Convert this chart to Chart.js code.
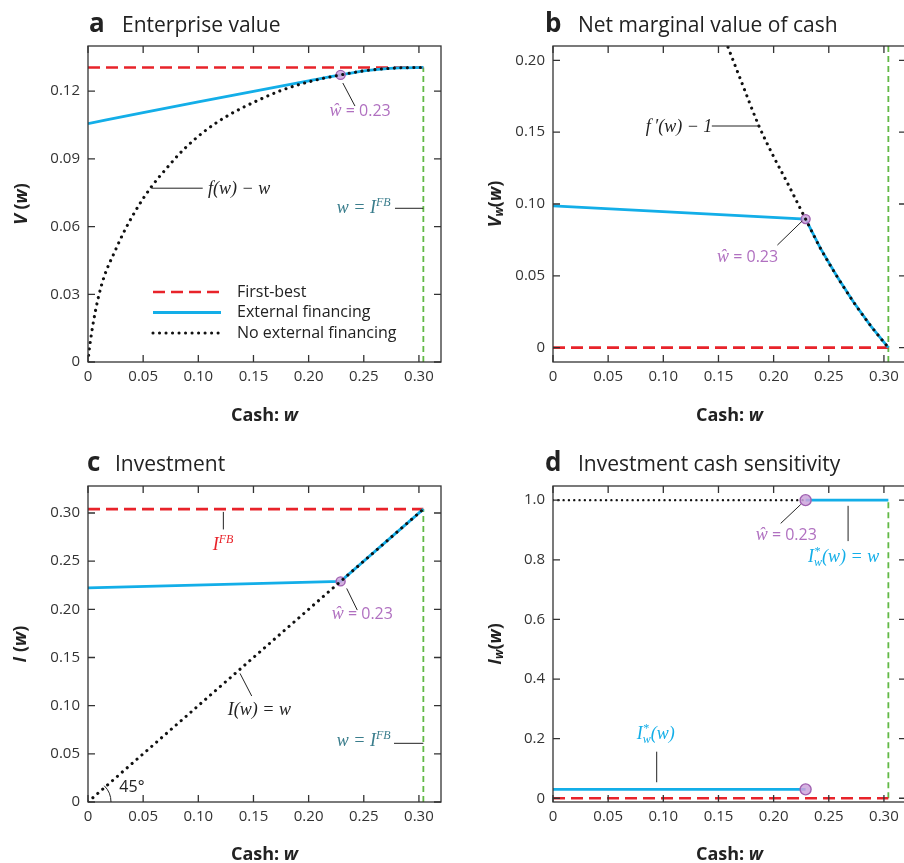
<!DOCTYPE html>
<html>
<head>
<meta charset="utf-8">
<script src="https://cdn.jsdelivr.net/npm/chart.js@4.4.1/dist/chart.umd.min.js"></script>
<style>
html, body { margin: 0; padding: 0; background: #fff; overflow: hidden; }
body { width: 904px; height: 863px; position: relative; }
canvas { position: absolute; }
</style>
</head>
<body>
<canvas id="chartA" width="452" height="430" style="left:0px;top:0px"></canvas>
<canvas id="chartB" width="470" height="430" style="left:452px;top:0px"></canvas>
<canvas id="chartC" width="452" height="425" style="left:0px;top:438px"></canvas>
<canvas id="chartD" width="470" height="425" style="left:452px;top:438px"></canvas>
<script>
// ---- data ----
var iFB = 0.304;      // first-best investment
var wHat = 0.229;     // payout boundary

var cashTicks = [0, 0.05, 0.10, 0.15, 0.20, 0.25, 0.30];
var cashTickLabels = ['0', '0.05', '0.10', '0.15', '0.20', '0.25', '0.30'];

// a: enterprise value
var valueTicks = [0, 0.03, 0.06, 0.09, 0.12];
var valueTickLabels = ['0', '0.03', '0.06', '0.09', '0.12'];
var firstBestValue = 0.1305;
var noFinW = [0, 0.0008, 0.0042, 0.009, 0.0147, 0.0237, 0.0342, 0.0462, 0.0568, 0.0703, 0.0868, 0.108, 0.129, 0.153, 0.174, 0.192, 0.210, 0.229, 0.252, 0.282, 0.304];
var noFinV = [0, 0.004, 0.0157, 0.0278, 0.0379, 0.0483, 0.0592, 0.0695, 0.0772, 0.0853, 0.0942, 0.1031, 0.1098, 0.1157, 0.1201, 0.1230, 0.1253, 0.1272, 0.1291, 0.1303, 0.1305];
var extFinW = [0, 0.05, 0.10, 0.15, 0.20, 0.229, 0.252, 0.282, 0.304];
var extFinV = [0.1056, 0.1105, 0.1153, 0.1199, 0.1245, 0.1272, 0.1291, 0.1303, 0.1305];

// b: net marginal value of cash
var marginalTicks = [0, 0.05, 0.10, 0.15, 0.20];
var marginalTickLabels = ['0', '0.05', '0.10', '0.15', '0.20'];
var noFinMargW = [0.150, 0.158, 0.170, 0.1866, 0.200, 0.2123, 0.229, 0.2425, 0.2575, 0.2724, 0.288, 0.304];
var noFinMargV = [0.226, 0.2104, 0.1867, 0.1545, 0.133, 0.115, 0.0895, 0.0691, 0.0495, 0.0318, 0.0152, 0];
var extFinMargW = [0, 0.229, 0.2425, 0.2575, 0.2724, 0.288, 0.304];
var extFinMargV = [0.0987, 0.0895, 0.0691, 0.0495, 0.0318, 0.0152, 0];
var firstBestMarg = 0;

// c: investment
var investTicks = [0, 0.05, 0.10, 0.15, 0.20, 0.25, 0.30];
var investTickLabels = ['0', '0.05', '0.10', '0.15', '0.20', '0.25', '0.30'];
var noFinInvW = [0, 0.304];
var noFinInvI = [0, 0.304];
var extFinInvW = [0, 0.229, 0.304];
var extFinInvI = [0.2223, 0.229, 0.304];

// d: investment cash sensitivity
var sensTicks = [0, 0.2, 0.4, 0.6, 0.8, 1.0];
var sensTickLabels = ['0', '0.2', '0.4', '0.6', '0.8', '1.0'];
var noFinSensW = [0, 0.229];
var noFinSensI = [1.0, 1.0];
var extLowW = [0, 0.229];
var extLowI = [0.03, 0.03];
var extHighW = [0.229, 0.304];
var extHighI = [1.0, 1.0];
var firstBestSens = 0;

// ---- styles ----
var RED = '#e8232a', BLUE = '#13aee8', GREEN = '#62b946', PURPLE = '#b070c0', TEAL = '#3a7d8c', INK = '#222';
var F = {
	serif: 'italic 18px "Liberation Serif"',
	serifSm: 'italic 12px "Liberation Serif"',
	sans: '16px "Open Sans"',
	bold: 'bold 18px "Open Sans"',
	boldI: 'bold italic 18px "Open Sans"',
	boldSm: 'bold italic 12px "Open Sans"',
	title: '21px "Open Sans"',
	letter: 'bold 26px "Open Sans"'
};

function pts(xs, ys) {
	return xs.map(function(x, i) { return {x: x, y: ys[i]}; });
}

function dotted(xs, ys, size, gap) {
	return {data: pts(xs, ys), showLine: true, pointRadius: 0, borderColor: '#111', borderWidth: size,
		borderDash: [0.01, gap], borderCapStyle: 'round', cubicInterpolationMode: 'monotone', label: 'No external financing'};
}
function solid(xs, ys, smooth) {
	return {data: pts(xs, ys), showLine: true, pointRadius: 0, borderColor: BLUE, borderWidth: 2.8,
		cubicInterpolationMode: smooth ? 'monotone' : 'default', tension: 0, label: 'External financing'};
}
function dashed(xs, ys) {
	return {data: pts(xs, ys), showLine: true, pointRadius: 0, borderColor: RED, borderWidth: 2.6,
		borderDash: [12, 6], label: 'First-best'};
}
function vline(xs, ys) {
	return {data: pts(xs, ys), showLine: true, pointRadius: 0, borderColor: GREEN, borderWidth: 1.8,
		borderDash: [6, 4]};
}
function marker(xs, ys, r) {
	return {data: pts(xs, ys), showLine: false, pointRadius: r, pointBackgroundColor: 'rgba(205,165,220,0.85)',
		pointBorderColor: '#a060b0', pointBorderWidth: 1.4};
}

function drawRich(ctx, x, y, parts, color) {
	parts.forEach(function(p) {
		ctx.font = p.f;
		ctx.fillStyle = p.c || color || INK;
		ctx.fillText(p.t, x, y + (p.dy || 0));
		if (!p.stack) x += ctx.measureText(p.t).width;
	});
}
function richWidth(ctx, parts) {
	var w = 0;
	parts.forEach(function(p) { ctx.font = p.f; if (!p.stack) w += ctx.measureText(p.t).width; });
	return w;
}

var decor = {
	id: 'decor',
	afterDraw: function(chart, args, o) {
		var ctx = chart.ctx, a = chart.chartArea, xs = chart.scales.x, ys = chart.scales.y;
		ctx.save();
		// frame and inward ticks on all four sides
		ctx.strokeStyle = '#333';
		ctx.lineWidth = 1.3;
		ctx.strokeRect(a.left, a.top, a.right - a.left, a.bottom - a.top);
		ctx.beginPath();
		xs.ticks.forEach(function(t) {
			var px = xs.getPixelForValue(t.value);
			ctx.moveTo(px, a.bottom); ctx.lineTo(px, a.bottom - 7);
			ctx.moveTo(px, a.top); ctx.lineTo(px, a.top + 7);
		});
		ys.ticks.forEach(function(t) {
			var py = ys.getPixelForValue(t.value);
			ctx.moveTo(a.left, py); ctx.lineTo(a.left + 7, py);
			ctx.moveTo(a.right, py); ctx.lineTo(a.right - 7, py);
		});
		ctx.stroke();

		// title
		ctx.textBaseline = 'alphabetic';
		ctx.textAlign = 'left';
		ctx.fillStyle = INK;
		ctx.font = F.letter;
		ctx.fillText(o.letter, o.letterX, o.titleY);
		ctx.font = F.title;
		ctx.fillText(o.title, o.titleX, o.titleY);

		// axis titles
		var xl = [{t: 'Cash: ', f: F.bold}, {t: 'w', f: F.boldI}];
		drawRich(ctx, (a.left + a.right) / 2 - richWidth(ctx, xl) / 2, o.xLabelY, xl);
		ctx.save();
		ctx.translate(o.yLabelX, (a.top + a.bottom) / 2);
		ctx.rotate(-Math.PI / 2);
		ctx.textBaseline = 'middle';
		drawRich(ctx, -richWidth(ctx, o.yLabel) / 2, 0, o.yLabel);
		ctx.restore();

		// notes with leader lines
		ctx.strokeStyle = '#222';
		ctx.lineWidth = 1;
		(o.notes || []).forEach(function(n) {
			if (n.line) {
				ctx.beginPath();
				ctx.moveTo(xs.getPixelForValue(n.line[0]), ys.getPixelForValue(n.line[1]));
				ctx.lineTo(xs.getPixelForValue(n.line[2]), ys.getPixelForValue(n.line[3]));
				ctx.stroke();
			}
			drawRich(ctx, xs.getPixelForValue(n.x), ys.getPixelForValue(n.y), n.parts, n.color);
		});

		// 45 degree arc
		if (o.arc) {
			ctx.beginPath();
			ctx.arc(xs.getPixelForValue(0), ys.getPixelForValue(0), o.arc, -Math.PI / 4, 0);
			ctx.stroke();
		}

		// legend
		if (o.legend) {
			var ds = chart.data.datasets.filter(function(d) { return d.label; });
			var order = ['First-best', 'External financing', 'No external financing'];
			order.forEach(function(lbl, i) {
				var d = ds.filter(function(x) { return x.label === lbl; })[0];
				var y = o.legend.y + i * o.legend.gap;
				ctx.save();
				ctx.strokeStyle = d.borderColor;
				ctx.lineWidth = d.borderWidth;
				ctx.setLineDash(d.borderDash || []);
				ctx.lineCap = d.borderCapStyle || 'butt';
				ctx.beginPath();
				ctx.moveTo(o.legend.x, y);
				ctx.lineTo(o.legend.x + 68, y);
				ctx.stroke();
				ctx.restore();
				ctx.font = F.sans;
				ctx.fillStyle = INK;
				ctx.textBaseline = 'middle';
				ctx.fillText(lbl, o.legend.x + 84, y);
			});
		}
		ctx.restore();
	}
};

function makePanel(id, box, xMax, yMin, yMax, yTicks, yTickLabels, datasets, decorOpts) {
	var canvas = document.getElementById(id);
	var W = canvas.width, H = canvas.height;
	return new Chart(canvas, {
		type: 'scatter',
		data: {datasets: datasets},
		options: {
			responsive: false,
			animation: false,
			events: [],
			layout: {padding: {left: 0, top: box.top, right: W - box.right, bottom: 0}},
			plugins: {legend: {display: false}, tooltip: {enabled: false}, decor: decorOpts},
			scales: {
				x: {
					type: 'linear', min: 0, max: xMax,
					grid: {display: false, drawTicks: false}, border: {display: false},
					afterBuildTicks: function(s) { s.ticks = cashTicks.map(function(v) { return {value: v}; }); },
					afterFit: function(s) { s.height = H - box.bottom; },
					ticks: {callback: function(v, i) { return cashTickLabels[i]; }, color: '#333',
						font: {family: '"Open Sans"', size: 15}, padding: 6, maxRotation: 0, autoSkip: false}
				},
				y: {
					type: 'linear', min: yMin, max: yMax,
					grid: {display: false, drawTicks: false}, border: {display: false},
					afterBuildTicks: function(s) { s.ticks = yTicks.map(function(v) { return {value: v}; }); },
					afterFit: function(s) { s.width = box.left; },
					ticks: {callback: function(v, i) { return yTickLabels[i]; }, color: '#333',
						font: {family: '"Open Sans"', size: 15}, padding: 8, autoSkip: false}
				}
			}
		},
		plugins: [decor]
	});
}

var hatLabel = [{t: 'ŵ', f: F.serif}, {t: ' = 0.23', f: F.sans}];
var wIFB = [{t: 'w = I', f: F.serif}, {t: 'FB', f: F.serifSm, dy: -7}];
var iStar = [{t: 'I', f: F.serif}, {t: '*', f: F.serifSm, dy: -7, stack: true}, {t: 'w', f: F.serifSm, dy: 4}, {t: '(w)', f: F.serif}];

// a
makePanel('chartA', {left: 88, top: 46, right: 441, bottom: 362}, 0.32, 0, 0.14, valueTicks, valueTickLabels, [
	dotted(noFinW, noFinV, 3.1, 6.5),
	marker([wHat], [0.1272], 4.5),
	solid(extFinW, extFinV, true),
	dashed([0, iFB], [firstBestValue, firstBestValue]),
	vline([iFB, iFB], [0, firstBestValue])
], {
	letter: 'a', title: 'Enterprise value', letterX: 89, titleX: 122, titleY: 32, xLabelY: 421, yLabelX: 22,
	yLabel: [{t: 'V', f: F.boldI}, {t: ' (', f: F.bold}, {t: 'w', f: F.boldI}, {t: ')', f: F.bold}],
	legend: {x: 153, y: 292, gap: 20.5},
	notes: [
		{x: 0.219, y: 0.1092, parts: hatLabel, color: PURPLE, line: [0.231, 0.1236, 0.242, 0.1134]},
		{x: 0.1088, y: 0.0744, parts: [{t: 'f(w) − w', f: F.serif}], color: INK, line: [0.0578, 0.0770, 0.1040, 0.0770]},
		{x: 0.2255, y: 0.066, parts: wIFB, color: TEAL, line: [0.2783, 0.0681, iFB, 0.0681]}
	]
});

// b
makePanel('chartB', {left: 101, top: 46, right: 454, bottom: 362}, 0.32, -0.01, 0.21, marginalTicks, marginalTickLabels, [
	dotted(noFinMargW, noFinMargV, 3.1, 6.5),
	marker([wHat], [0.0895], 4.5),
	solid(extFinMargW, extFinMargV, false),
	dashed([0, iFB], [firstBestMarg, firstBestMarg]),
	vline([iFB, iFB], [-0.01, 0.21])
], {
	letter: 'b', title: 'Net marginal value of cash', letterX: 93, titleX: 126, titleY: 32, xLabelY: 421, yLabelX: 44,
	yLabel: [{t: 'V', f: F.boldI}, {t: 'w', f: F.boldSm, dy: 4}, {t: '(', f: F.bold}, {t: 'w', f: F.boldI}, {t: ')', f: F.bold}],
	notes: [
		{x: 0.084, y: 0.150, parts: [{t: 'f\u2009′(w) − 1', f: F.serif}], color: INK, line: [0.144, 0.1543, 0.1868, 0.1543]},
		{x: 0.1487, y: 0.0596, parts: hatLabel, color: PURPLE, line: [0.2034, 0.0714, 0.226, 0.0882]}
	]
});

// c
makePanel('chartC', {left: 88, top: 48, right: 441, bottom: 364}, 0.32, 0, 0.328, investTicks, investTickLabels, [
	dotted(noFinInvW, noFinInvI, 3.1, 6.5),
	marker([wHat], [0.229], 4.5),
	solid(extFinInvW, extFinInvI, false),
	dashed([0, iFB], [iFB, iFB]),
	vline([iFB, iFB], [0, iFB])
], {
	letter: 'c', title: 'Investment', letterX: 87, titleX: 115, titleY: 33, xLabelY: 422, yLabelX: 21,
	yLabel: [{t: 'I', f: F.boldI}, {t: ' (', f: F.bold}, {t: 'w', f: F.boldI}, {t: ')', f: F.bold}],
	arc: 23,
	notes: [
		{x: 0.113, y: 0.2614, parts: [{t: 'I', f: F.serif}, {t: 'FB', f: F.serifSm, dy: -7}], color: RED, line: [0.1227, 0.3011, 0.1227, 0.2829]},
		{x: 0.221, y: 0.1898, parts: hatLabel, color: PURPLE, line: [0.2345, 0.2217, 0.2441, 0.1992]},
		{x: 0.1267, y: 0.0902, parts: [{t: 'I(w) = w', f: F.serif}], color: INK, line: [0.1378, 0.1335, 0.1484, 0.110]},
		{x: 0.2255, y: 0.0581, parts: wIFB, color: TEAL, line: [0.2774, 0.0609, iFB, 0.0609]},
		{x: 0.0284, y: 0.0104, parts: [{t: '45°', f: F.sans}], color: INK}
	]
});

// d
makePanel('chartD', {left: 101, top: 48, right: 454, bottom: 364}, 0.32, -0.0125, 1.0475, sensTicks, sensTickLabels, [
	marker([wHat, wHat], [1.0, 0.03], 5.5),
	dotted(noFinSensW, noFinSensI, 2.4, 5.3),
	solid(extHighW, extHighI, false),
	solid(extLowW, extLowI, false),
	dashed([0, iFB], [firstBestSens, firstBestSens]),
	vline([iFB, iFB], [0, 1.0])
], {
	letter: 'd', title: 'Investment cash sensitivity', letterX: 93, titleX: 126, titleY: 33, xLabelY: 422, yLabelX: 44,
	yLabel: [{t: 'I', f: F.boldI}, {t: 'w', f: F.boldSm, dy: 4}, {t: '(', f: F.bold}, {t: 'w', f: F.boldI}, {t: ')', f: F.bold}],
	notes: [
		{x: 0.1838, y: 0.866, parts: hatLabel, color: PURPLE, line: [0.2064, 0.922, 0.2246, 0.9856]},
		{x: 0.2312, y: 0.7925, parts: iStar.concat([{t: ' = w', f: F.serif}]), color: BLUE, line: [0.2675, 0.981, 0.2675, 0.8626]},
		{x: 0.0759, y: 0.199, parts: iStar, color: BLUE, line: [0.094, 0.1563, 0.094, 0.0537]}
	]
});
</script>
</body>
</html>
